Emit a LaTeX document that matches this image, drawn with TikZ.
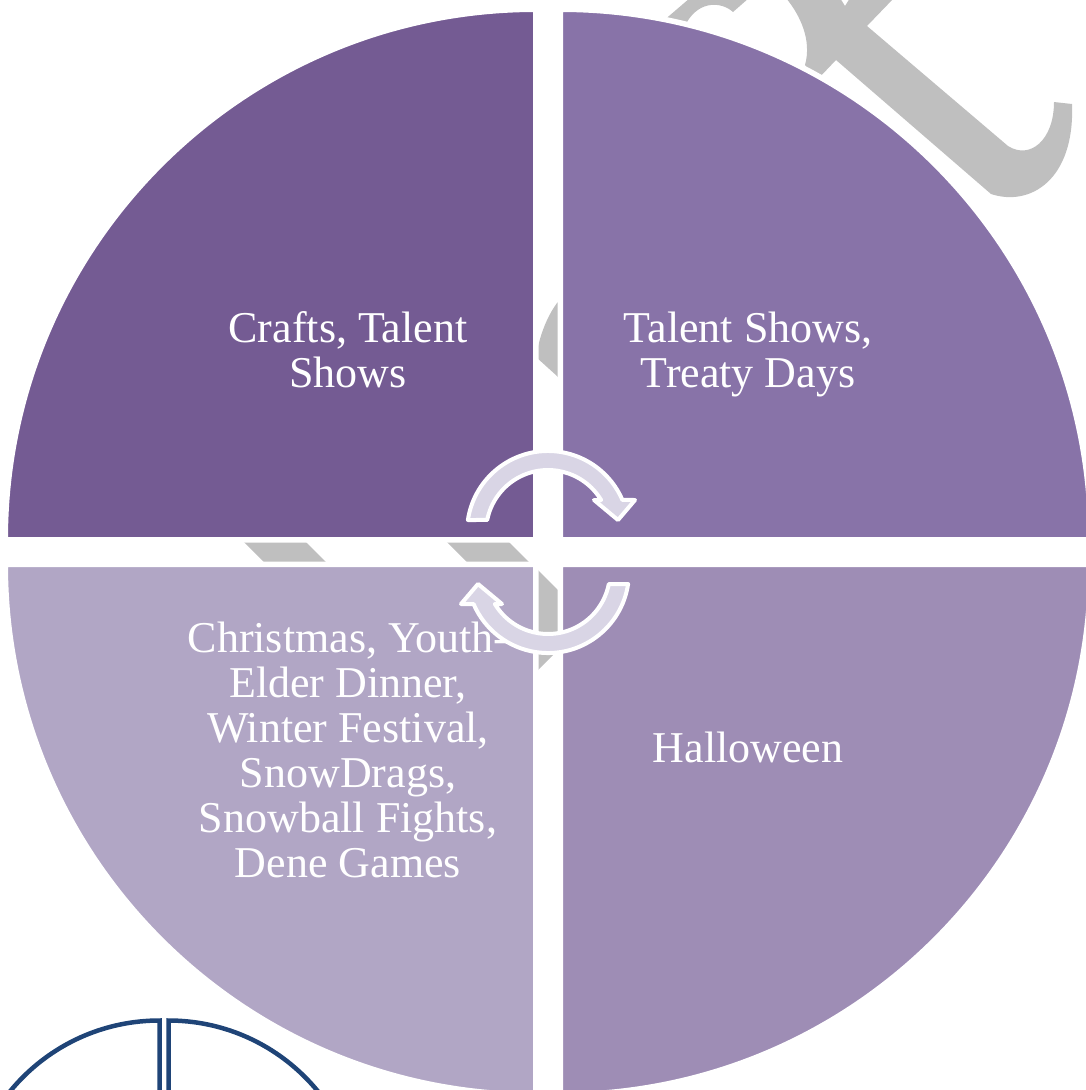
\documentclass[tikz,border=0pt]{standalone}
\usepackage{fontspec}
\setmainfont{Liberation Serif}
\usetikzlibrary{positioning}

\definecolor{QuadTL}{HTML}{745B93}
\definecolor{QuadTR}{HTML}{8873A8}
\definecolor{QuadBR}{HTML}{9E8DB5}
\definecolor{QuadBL}{HTML}{B1A6C5}
\definecolor{ArrowFill}{HTML}{D9D5E5}
\definecolor{MarkGray}{HTML}{BFBFBF}
\definecolor{PieBlue}{HTML}{1F4477}

\begin{document}
\begin{tikzpicture}[x=1pt,y=-1pt]

  \useasboundingbox (0,0) rectangle (1086,1090);
  \clip (0,0) rectangle (1086,1090);

  \coordinate (CornerTL) at (535.75,539.75);
  \coordinate (CornerTR) at (560.25,539.75);
  \coordinate (CornerBR) at (560.25,564.25);
  \coordinate (CornerBL) at (535.75,564.25);
  \coordinate (Middle) at (548,552);

  \tikzstyle{quad}=[draw=white,line width=5.5pt,line join=miter];
  \tikzstyle{markpiece}=[fill=MarkGray];
  \tikzstyle{cyc}=[fill=ArrowFill,draw=white,line width=4pt,line join=round];
  \tikzstyle{quadtext}=[text=white,align=center,inner sep=0pt,anchor=base,
                     font=\fontsize{44}{45}\selectfont];
  \tikzstyle{pieline}=[draw=PieBlue,line width=4.5pt];

  % grey mark behind the circle
  \fill[markpiece] (655,28) -- (690,-2) -- (749,-2) -- (733,12)
       .. controls (722,2) and (700,0) .. (687,22) -- (680,32) -- cycle;
  \fill[markpiece] (786,-2) .. controls (800,15) and (812,40) .. (805,65)
       -- (817,80) -- (836,60) -- (991,194)
       .. controls (1030,207) and (1075,180) .. (1072,104)
       -- (1054,102) .. controls (1054,140) and (1030,160) .. (1008,146)
       -- (867,26) -- (894,-2) -- (850,-2) -- (845,6) -- (840,-2) -- cycle;
  \fill[markpiece] (570,290) -- (557,303) .. controls (546,318) and (539,338) .. (536,357)
       -- (557,376) -- (570,389) -- cycle;
  \fill[markpiece] (237,535) -- (299,535) -- (334,570) -- (272,570) -- cycle;
  \fill[markpiece] (440,535) -- (502,535) -- (537,570) -- (475,570) -- cycle;
  \fill[markpiece] (536,568) -- (570,602) -- (570,638) -- (536,672) -- cycle;

  % four quarters
  \path[quad,fill=QuadTL] (CornerTL) -- ++(-530.5,0)
       arc[start angle=180,end angle=270,radius=530.5] -- cycle;
  \path[quad,fill=QuadTR] (CornerTR) -- ++(0,-530.5)
       arc[start angle=270,end angle=360,radius=530.5] -- cycle;
  \path[quad,fill=QuadBR] (CornerBR) -- ++(530.5,0)
       arc[start angle=0,end angle=90,radius=530.5] -- cycle;
  \path[quad,fill=QuadBL] (CornerBL) -- ++(0,530.5)
       arc[start angle=90,end angle=180,radius=530.5] -- cycle;

  % second pie, outline only
  \draw[pieline] (159.5,1213.5) -- (159.5,1020.5)
       arc[start angle=270,end angle=180,radius=193] -- cycle;
  \draw[pieline] (168.5,1213.5) -- (168.5,1020.5)
       arc[start angle=270,end angle=360,radius=193] -- cycle;

  \node[quadtext] (CraftsText) at (348,387) {Crafts, Talent\\Shows};
  \node[quadtext] (TreatyText) at (748,387) {Talent Shows,\\Treaty Days};
  \node[quadtext] (HalloweenText) at (748,762) {Halloween};
  \node[quadtext] (WinterText) at (348,877) {Christmas, Youth-\\Elder Dinner,\\Winter Festival,\\SnowDrags,\\Snowball Fights,\\Dene Games};

  % circular arrows
  \path[cyc] (467.9,520) arc[start angle=188.5,end angle=336.7,radius=81]
       -- (635,500) -- (618,520) -- (594,500) -- (601.1,500)
       arc[start angle=328.9,end angle=191.2,radius=62] -- cycle;
  \path[cyc,rotate around={180:(Middle)}] (467.9,520)
       arc[start angle=188.5,end angle=336.7,radius=81]
       -- (635,500) -- (618,520) -- (594,500) -- (601.1,500)
       arc[start angle=328.9,end angle=191.2,radius=62] -- cycle;

\end{tikzpicture}
\end{document}
